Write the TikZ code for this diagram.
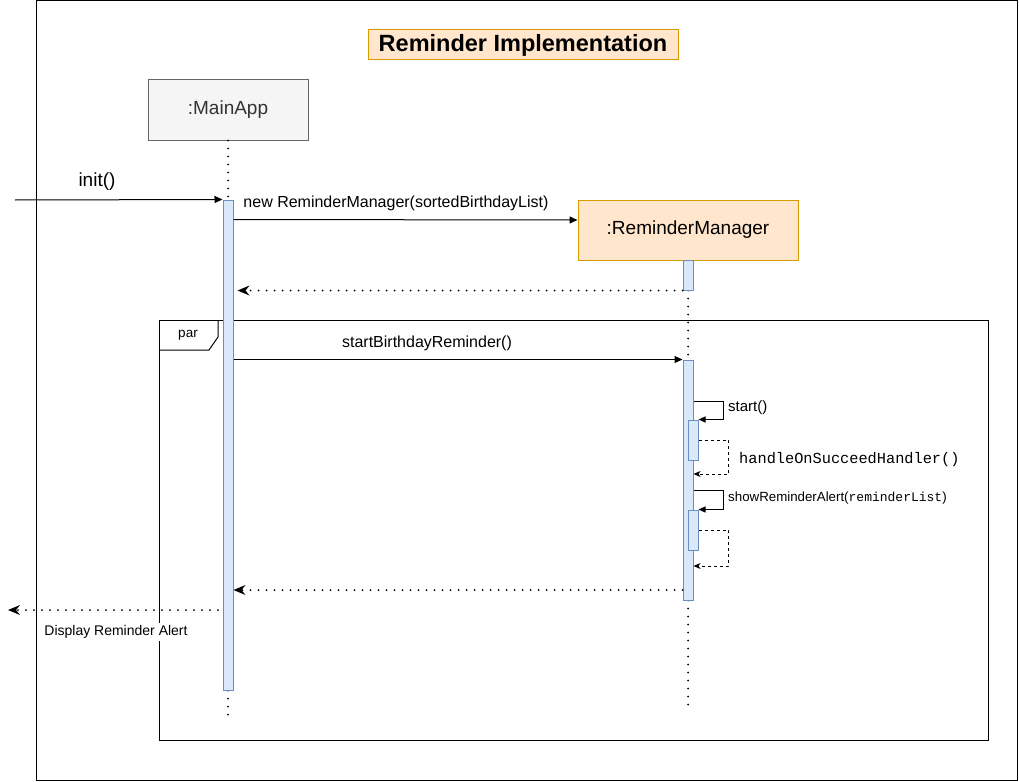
\documentclass[tikz,border=0pt]{standalone}
\usepackage{fontspec}
\setmainfont{Liberation Sans}
\newfontfamily\monofont{Liberation Mono}
\usetikzlibrary{arrows.meta}
\definecolor{orfill}{HTML}{FFE6CC}
\definecolor{ordraw}{HTML}{D79B00}
\definecolor{grfill}{HTML}{F5F5F5}
\definecolor{grdraw}{HTML}{666666}
\definecolor{grtext}{HTML}{333333}
\definecolor{actfill}{HTML}{DAE8FC}
\definecolor{actdraw}{HTML}{6C8EBF}
\tikzset{
  fs/.style={font=\fontsize{#1}{#1}\selectfont},
  lifebox/.style={draw, line width=1pt, minimum width=160pt, minimum height=60pt, inner sep=0pt, fs=19},
  actbar/.style={draw=actdraw, fill=actfill, line width=1pt, minimum width=10pt, inner sep=0pt},
  lifeline/.style={line width=2pt, line cap=round, dash pattern=on 0pt off 8pt},
  msg/.style={line width=1pt, -{Triangle[length=8pt,width=7pt]}},
  selfmsg/.style={line width=1pt, -{Triangle[length=7pt,width=6pt]}},
  retmsg/.style={line width=2pt, line cap=round, dash pattern=on 0pt off 8pt, -{Stealth[length=12pt,width=10pt,inset=4pt,line width=0pt]}},
  selfret/.style={line width=1pt, dash pattern=on 3pt off 3pt, -{Stealth[length=7pt,width=6pt,inset=2pt]}},
  lbl/.style={inner sep=0pt, fs=#1},
}
\begin{document}
\begin{tikzpicture}[x=1pt,y=-1pt]
\useasboundingbox (0,0) rectangle (1019,781);
% outer frame
\node[draw, line width=1pt, minimum width=981pt, minimum height=779.5pt, inner sep=0pt, anchor=north west] (frame) at (36,0.5) {};
% title
\node[draw=ordraw, fill=orfill, line width=1pt, minimum width=310pt, minimum height=30pt, inner sep=0pt, font=\bfseries\fontsize{23.5}{23.5}\selectfont] (title) at (523,45) {Reminder Implementation};
% lifeline heads
\node[lifebox, fill=grfill, draw=grdraw, text=grtext] (main) at (228,110) {:MainApp};
\node[lifebox, fill=orfill, draw=ordraw, minimum width=220pt] (rm) at (688,230) {:ReminderManager};
% par frame
\node[draw, line width=1pt, minimum width=829pt, minimum height=420pt, inner sep=0pt, anchor=north west] (par) at (159,320) {};
\draw[line width=1pt] ([yshift=-30pt]par.north west) -- ++(50,0) -- ++(9,-13) -- ++(0,-17);
\node[lbl=13.5] (parlbl) at (188,335) {par};
% end coordinates
\coordinate (mainend) at (228,720);
\coordinate (rmend) at (688,710);
\coordinate (initsrc) at (15,200);
\coordinate (dispdst) at (8,610);
\coordinate (dispsrc) at (218,610);
% activation bars (positions)
\path (228,445) node[actbar, minimum height=490pt] (a1) {};
\path (688,275) node[actbar, minimum height=30pt] (a2) {};
\path (688,480) node[actbar, minimum height=240pt] (a3) {};
% lifelines
\draw[lifeline] (main.south) -- (a1.north);
\draw[lifeline] (a1.south) -- (mainend);
\draw[lifeline] (a2.south) -- (a3.north);
\draw[lifeline] (a3.south) -- (rmend);
% redraw bars on top
\node[actbar, minimum height=490pt] at (a1) {};
\node[actbar, minimum height=30pt] at (a2) {};
\node[actbar, minimum height=240pt] at (a3) {};
\node[actbar, minimum height=40pt] (a4) at (693,440) {};
\node[actbar, minimum height=40pt] (a5) at (693,530) {};
% init
\draw[msg] (initsrc) -- (a1.north west);
\node[lbl=19] (initlbl) at (97,182) {init()};
% new ReminderManager
\draw[msg] ([yshift=-20pt]a1.north east) -- ([yshift=10pt]rm.west);
\node[lbl=16] (newlbl) at (396,203) {new ReminderManager(sortedBirthdayList)};
% return 1
\draw[retmsg, shorten >=4pt] (a2.south west) -- (a1.east |- a2.south);
% startBirthdayReminder
\draw[msg] (a1.east |- a3.north) -- (a3.north west);
\node[lbl=16] (sbrlbl) at (427,343) {startBirthdayReminder()};
% start()
\draw[selfmsg] (a3.east |- 0,401) -| ([xshift=25pt]a4.north east) -- (a4.north east);
\node[lbl=15, anchor=west] (startlbl) at (728,408) {start()};
\draw[selfret] (a4.east) -- ++(30,0) |- (a3.east |- 0,474);
\node[lbl=15.3, anchor=west, font=\monofont\fontsize{15.3}{15.3}\selectfont] (hoslbl) at (739,460) {handleOnSucceedHandler()};
% showReminderAlert
\draw[selfmsg] (a3.east |- 0,490) -| ([xshift=25pt]a5.north east) -- (a5.north east);
\node[lbl=13.3, anchor=west] (sralbl) at (728,498) {showReminderAlert({\monofont\fontsize{13}{13}\selectfont reminderList})};
\draw[selfret] (a5.east) -- ++(30,0) |- (a3.east |- 0,566);
% return 2
\draw[retmsg] (a3.west |- 0,590) -- (a1.east |- 0,590);
% display
\draw[retmsg] (dispsrc) -- (dispdst);
\node[lbl=14, fill=white, inner xsep=1pt, inner ysep=2pt] (displbl) at (116,632) {Display Reminder Alert};
\end{tikzpicture}
\end{document}
